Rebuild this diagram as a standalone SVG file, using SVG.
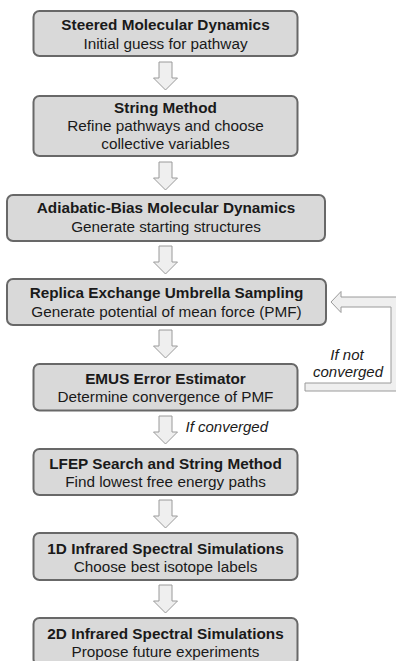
<svg xmlns="http://www.w3.org/2000/svg" width="396" height="661" viewBox="0 0 396 661">
<style>
.box{fill:#d9d9d9;stroke:#686868;stroke-width:2}
.t{font-family:"Liberation Sans",Arial,sans-serif;font-size:15.3px;fill:#1a1a1a;text-anchor:middle}
.b{font-weight:bold}
.i{font-family:"Liberation Sans",Arial,sans-serif;font-size:15px;font-style:italic;fill:#1a1a1a}
.arr{fill:#efefef;stroke:#9a9a9a;stroke-width:1}
</style>
<defs>
<path id="down" d="M-6.5,0 H6.5 V16 H12 L0,28 L-12,16 H-6.5 Z"/>
</defs>
<rect width="396" height="661" fill="#ffffff"/>
<g id="connectors">
<use href="#down" class="arr" transform="translate(165.5,62)"/>
<use href="#down" class="arr" transform="translate(165.5,162)"/>
<use href="#down" class="arr" transform="translate(165.5,246)"/>
<use href="#down" class="arr" transform="translate(165.5,330)"/>
<use href="#down" class="arr" transform="translate(165.5,416)"/>
<use href="#down" class="arr" transform="translate(165.5,500)"/>
<use href="#down" class="arr" transform="translate(165.5,585)"/>
<path class="arr" d="M305,383 H391 V307 H341 V312.5 L331,302 L341,291.5 V297 H401 V391 H305 Z"/>
<text class="i" x="347" y="360" text-anchor="middle">If not</text>
<text class="i" x="348" y="376.5" text-anchor="middle">converged</text>
<text class="i" x="185.5" y="432">If converged</text>
</g>
<g id="n1">
<rect class="box" x="33.5" y="11" width="264" height="45" rx="6"/>
<text class="t b" x="165.5" y="30">Steered Molecular Dynamics</text>
<text class="t" x="165.5" y="48.5">Initial guess for pathway</text>
</g>
<g id="n2">
<rect class="box" x="33.5" y="96" width="264" height="60" rx="6"/>
<text class="t b" x="165.5" y="113.3">String Method</text>
<text class="t" x="165.5" y="131">Refine pathways and choose</text>
<text class="t" x="165.5" y="148.7">collective variables</text>
</g>
<g id="n3">
<rect class="box" x="7" y="195" width="318" height="46" rx="6"/>
<text class="t b" x="166" y="213.3">Adiabatic-Bias Molecular Dynamics</text>
<text class="t" x="166" y="231.7">Generate starting structures</text>
</g>
<g id="n4">
<rect class="box" x="7" y="279" width="319" height="46" rx="6"/>
<text class="t b" x="166.5" y="298.3">Replica Exchange Umbrella Sampling</text>
<text class="t" x="166.5" y="316.7">Generate potential of mean force (PMF)</text>
</g>
<g id="n5">
<rect class="box" x="33.5" y="364" width="264" height="46.5" rx="6"/>
<text class="t b" x="165.5" y="384.3">EMUS Error Estimator</text>
<text class="t" x="165.5" y="401.7">Determine convergence of PMF</text>
</g>
<g id="n6">
<rect class="box" x="33.5" y="449" width="264" height="46" rx="6"/>
<text class="t b" x="165.5" y="469">LFEP Search and String Method</text>
<text class="t" x="165.5" y="486.7">Find lowest free energy paths</text>
</g>
<g id="n7">
<rect class="box" x="33.5" y="533" width="264" height="47" rx="6"/>
<text class="t b" x="165.5" y="554">1D Infrared Spectral Simulations</text>
<text class="t" x="165.5" y="571.7">Choose best isotope labels</text>
</g>
<g id="n8">
<rect class="box" x="33.5" y="618" width="264" height="47" rx="6"/>
<text class="t b" x="165.5" y="639">2D Infrared Spectral Simulations</text>
<text class="t" x="165.5" y="656.7">Propose future experiments</text>
</g>
</svg>
